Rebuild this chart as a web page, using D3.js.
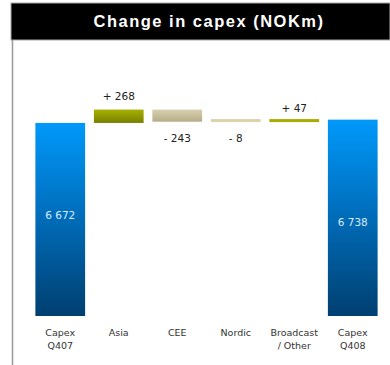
<!DOCTYPE html>
<html>
<head>
<meta charset="utf-8">
<script src="https://cdn.jsdelivr.net/npm/d3@7"></script>
<style>
  body { margin: 0; background: #fff; }
  svg { display: block; }
</style>
</head>
<body>
<svg id="chart" width="390" height="365"></svg>
<script>
const categories = ["Capex\nQ407", "Asia", "CEE", "Nordic", "Broadcast\n/ Other", "Capex\nQ408"];
const values = [6672, 268, -243, -8, 47, 6738];
const kinds = ["total", "delta", "delta", "delta", "delta", "total"];
const valueLabels = ["6 672", "+ 268", "- 243", "- 8", "+ 47", "6 738"];

const svg = d3.select("#chart");
const width = +svg.attr("width");
const height = +svg.attr("height");

// gradients
const defs = svg.append("defs");
function grad(id, stops) {
  const g = defs.append("linearGradient").attr("id", id)
    .attr("x1", 0).attr("y1", 0).attr("x2", 0).attr("y2", 1);
  stops.forEach(s => g.append("stop").attr("offset", s[0]).attr("stop-color", s[1]));
}
grad("gTotal", [[0, "#0099fa"], [0.45, "#0070bf"], [1, "#003f70"]]);
grad("gUp", [[0, "#a8b000"], [1, "#778000"]]);
grad("gDown", [[0, "#d8d0b0"], [1, "#b6ac88"]]);

// frame
svg.append("rect").attr("x", 11).attr("y", 3).attr("width", width - 11).attr("height", 37)
  .attr("fill", "#000").attr("stroke", "#aaa").attr("stroke-width", 1);
svg.append("line").attr("x1", 12.5).attr("x2", 12.5).attr("y1", 40).attr("y2", height)
  .attr("stroke", "#999").attr("stroke-width", 1.5);
svg.append("text")
  .attr("x", 209).attr("y", 27)
  .attr("text-anchor", "middle")
  .attr("fill", "#fff")
  .attr("font-family", "Liberation Sans, Arial, sans-serif")
  .attr("font-weight", "bold")
  .attr("font-size", "16.5px")
  .attr("letter-spacing", "1.5px")
  .text("Change in capex (NOKm)");

const yBase = 2800;

// waterfall steps
let running = 0;
const steps = values.map((v, i) => {
  let start, end;
  if (kinds[i] === "total") { start = yBase; end = v; running = v; }
  else { start = running; end = running + v; running = end; }
  return { cat: categories[i], v, kind: kinds[i], start, end, label: valueLabels[i] };
});

const x = d3.scaleBand().domain(categories).range([31, 382])
  .paddingInner(0.15).paddingOuter(0.075);
const y = d3.scaleLinear().domain([yBase, 7100]).range([316, 101.6]);

const bars = svg.append("g");
steps.forEach(d => {
  const y0 = y(d.start), y1 = y(d.end);
  const h = Math.max(3, Math.abs(y0 - y1));
  const top = Math.max(y0, y1) - h;
  let fill = "url(#gTotal)";
  if (d.kind === "delta") {
    if (d.cat === "Nordic") fill = "#dcd3ac";
    else if (d.cat.startsWith("Broadcast")) fill = "#a7ac00";
    else fill = d.v > 0 ? "url(#gUp)" : "url(#gDown)";
  }
  bars.append("rect")
    .attr("x", x(d.cat)).attr("y", top)
    .attr("width", x.bandwidth()).attr("height", h)
    .attr("fill", fill);

  const cx = x(d.cat) + x.bandwidth() / 2;
  let ty;
  if (d.kind === "total") ty = (top + top + h) / 2 + (d.cat.endsWith("Q407") ? 0 : 8);
  else if (d.v > 0) ty = top - (h > 5 ? 10 : 7);
  else ty = top + h + 20;
  bars.append("text")
    .attr("x", cx).attr("y", ty)
    .attr("text-anchor", "middle")
    .attr("font-family", "DejaVu Sans, Verdana, sans-serif")
    .attr("font-size", "10.5px")
    .attr("fill", d.kind === "total" ? "#d8ecff" : "#222")
    .text(d.label);
});

// category labels
const xAxis = svg.append("g");
categories.forEach(c => {
  const t = xAxis.append("text")
    .attr("x", x(c) + x.bandwidth() / 2).attr("y", 336)
    .attr("text-anchor", "middle")
    .attr("font-family", "DejaVu Sans, Verdana, sans-serif")
    .attr("font-size", "9.5px")
    .attr("fill", "#333");
  c.split("\n").forEach((line, i) => {
    t.append("tspan").attr("x", x(c) + x.bandwidth() / 2).attr("dy", i ? 12.5 : 0).text(line);
  });
});
</script>
</body>
</html>
